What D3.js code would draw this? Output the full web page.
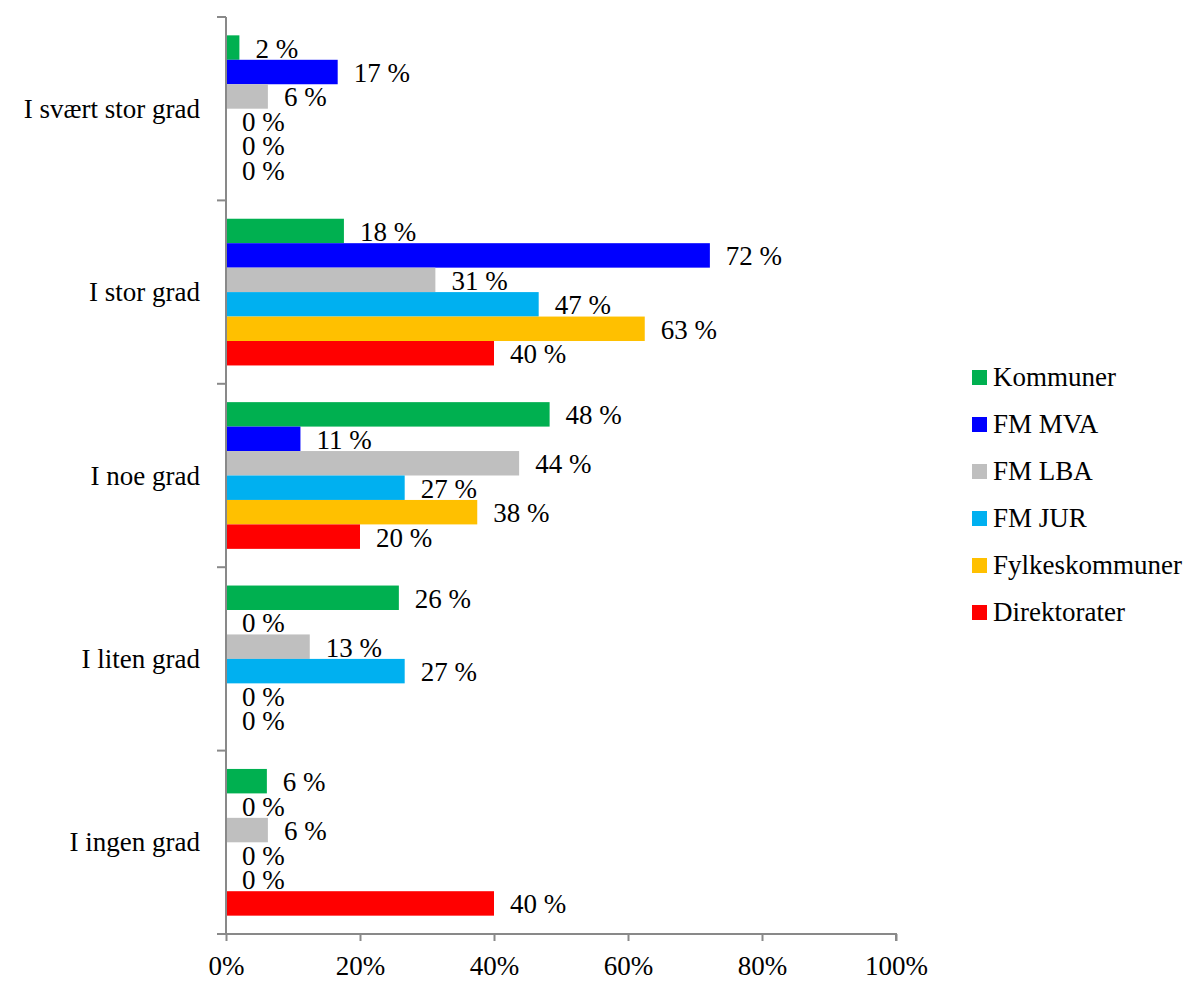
<!DOCTYPE html>
<html><head><meta charset="utf-8">
<script src="https://cdn.jsdelivr.net/npm/d3@7"></script>
<style>
html,body{margin:0;padding:0;background:#fff;}
text{font-family:"Liberation Serif","Times New Roman",serif;fill:#000;}
</style></head>
<body>
<svg id="chart" width="1194" height="981"></svg>
<script>
const categories = ["I svært stor grad","I stor grad","I noe grad","I liten grad","I ingen grad"];
const seriesNames = ["Kommuner","FM MVA","FM LBA","FM JUR","Fylkeskommuner","Direktorater"];
const seriesColors = ["#00B050","#0000FF","#BFBFBF","#00B0F0","#FFC000","#FF0000"];
// values in percent, one array per series, in category order
const kommuner = [2, 17.6, 48.3, 25.8, 6.1];
const fmMva = [16.67, 72.22, 11.11, 0, 0];
const fmLba = [6.25, 31.25, 43.75, 12.5, 6.25];
const fmJur = [0, 46.67, 26.67, 26.67, 0];
const fylkeskommuner = [0, 62.5, 37.5, 0, 0];
const direktorater = [0, 40, 20, 0, 40];
const seriesValues = [kommuner, fmMva, fmLba, fmJur, fylkeskommuner, direktorater];
const xTicks = [0, 20, 40, 60, 80, 100];

const svg = d3.select("#chart");
const axisColor = "#898989";
const fs = 27;

const x = d3.scaleLinear().domain([0,100]).range([226, 896]);
const y = d3.scaleBand().domain(categories).range([17, 934]).paddingInner(0).paddingOuter(0);
const yi = d3.scaleBand().domain(seriesNames).range([0, y.bandwidth()]).paddingInner(0).paddingOuter(0.75);

// bars
const g = svg.append("g");
categories.forEach((c, ci) => {
  seriesNames.forEach((s, si) => {
    const v = seriesValues[si][ci];
    const y0 = y(c) + yi(s);
    g.append("rect")
      .attr("x", x(0)).attr("y", y0)
      .attr("width", x(v) - x(0)).attr("height", yi.bandwidth())
      .attr("fill", seriesColors[si]);
    g.append("text")
      .attr("x", x(v) + 16)
      .attr("y", y0 + yi.bandwidth()/2 + 10)
      .attr("font-size", fs)
      .text(Math.round(v) + " %");
  });
});

// y axis
svg.append("line").attr("x1", x(0)).attr("x2", x(0)).attr("y1", 17).attr("y2", 934)
  .attr("stroke", axisColor).attr("stroke-width", 2);
const bounds = categories.map(c => y(c)).concat([y.range()[1]]);
svg.selectAll(".ytick").data(bounds).enter().append("line")
  .attr("x1", x(0) - 9).attr("x2", x(0)).attr("y1", d => d).attr("y2", d => d)
  .attr("stroke", axisColor).attr("stroke-width", 2);
svg.selectAll(".ylab").data(categories).enter().append("text")
  .attr("x", 200).attr("y", d => y(d) + y.bandwidth()/2 + 9)
  .attr("text-anchor", "end").attr("font-size", fs)
  .text(d => d);

// x axis
const xa = svg.append("g").attr("transform", "translate(0,934)")
  .call(d3.axisBottom(x).tickValues(xTicks).tickSize(7).tickFormat(d => d + "%"));
xa.select(".domain").attr("stroke", axisColor).attr("stroke-width", 2).attr("d", `M${x(0)},0H${x(100)}V7`);
xa.selectAll(".tick line").attr("stroke", axisColor).attr("stroke-width", 2);
xa.selectAll(".tick text").attr("font-size", fs).attr("font-family", '"Liberation Serif",serif')
  .attr("fill", "#000").attr("y", 0).attr("dy", 0).attr("transform", "translate(0,41)");

// legend
const lg = svg.append("g");
seriesNames.forEach((s, i) => {
  const cy = 377 + i * 47;
  lg.append("rect").attr("x", 972).attr("y", cy - 7).attr("width", 15).attr("height", 15).attr("fill", seriesColors[i]);
  lg.append("text").attr("x", 993).attr("y", cy + 9).attr("font-size", fs).text(s);
});
</script>
</body></html>
